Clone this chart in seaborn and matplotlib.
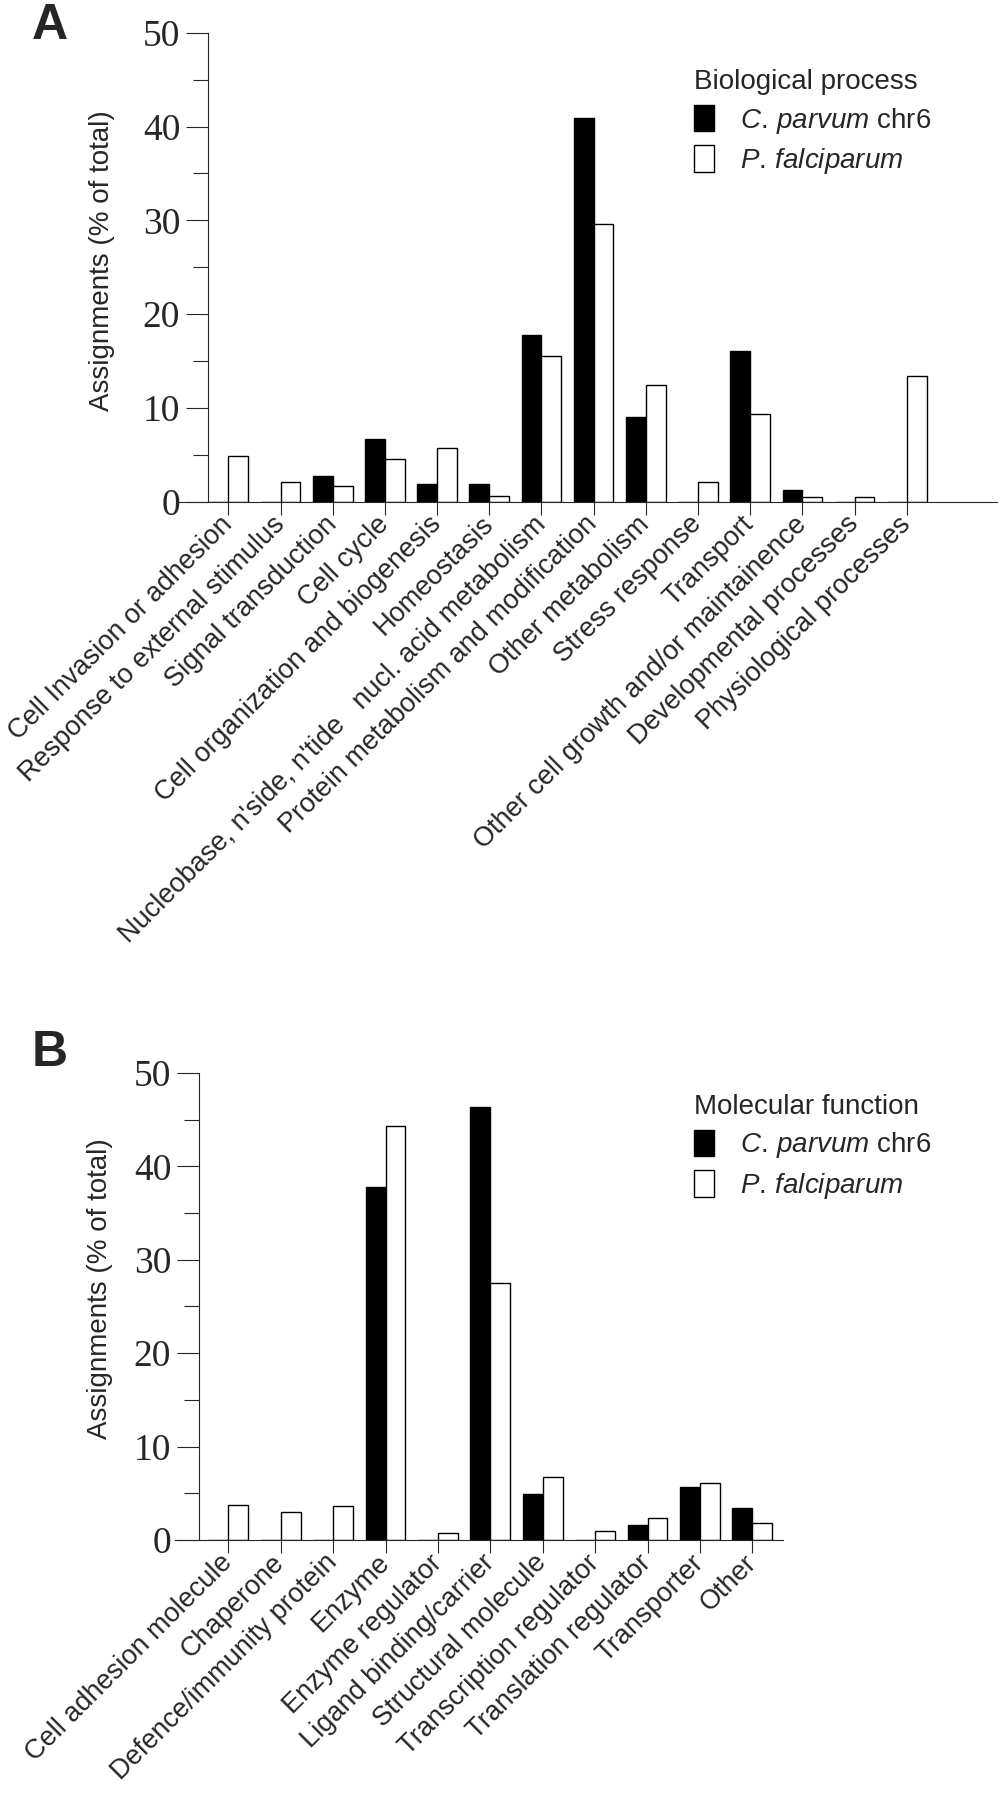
import matplotlib.pyplot as plt
import pandas as pd
import seaborn as sns
from matplotlib.patches import Patch
from matplotlib.ticker import MultipleLocator

# GO "biological process" categories (panel A)
bio_process = [
    "Cell Invasion or adhesion",
    "Response to external stimulus",
    "Signal transduction",
    "Cell cycle",
    "Cell organization and biogenesis",
    "Homeostasis",
    "Nucleobase, n'side, n'tide   nucl. acid metabolism",
    "Protein metabolism and modification",
    "Other metabolism",
    "Stress response",
    "Transport",
    "Other cell growth and/or maintainence",
    "Developmental processes",
    "Physiological processes",
]
bio_cparvum = [0, 0, 2.7, 6.7, 1.85, 1.85, 17.8, 40.9, 9.0, 0, 16.1, 1.2, 0, 0]
bio_pfalc = [4.9, 2.1, 1.7, 4.5, 5.7, 0.6, 15.5, 29.6, 12.4, 2.1, 9.4, 0.45, 0.45, 13.4]

# GO "molecular function" categories (panel B)
mol_function = [
    "Cell adhesion molecule",
    "Chaperone",
    "Defence/immunity protein",
    "Enzyme",
    "Enzyme regulator",
    "Ligand binding/carrier",
    "Structural molecule",
    "Transcription regulator",
    "Translation regulator",
    "Transporter",
    "Other",
]
mol_cparvum = [0, 0, 0, 37.8, 0, 46.3, 4.9, 0, 1.6, 5.7, 3.4]
mol_pfalc = [3.8, 3.0, 3.6, 44.3, 0.75, 27.5, 6.8, 1.0, 2.4, 6.1, 1.8]

species = ["C. parvum chr6", "P. falciparum"]
legend_labels = [r"$\mathit{C.\,parvum}$ chr6", r"$\mathit{P.\,falciparum}$"]
colors = {"C. parvum chr6": "black", "P. falciparum": "white"}


def mk_df(cats, cp, pf):
    return pd.DataFrame({
        "category": cats * 2,
        "species": [species[0]] * len(cats) + [species[1]] * len(cats),
        "value": cp + pf,
    })


def draw_panel(ax, cats, cp, pf, xlim, spine_left, title, lab_x, lab_y, leg_anchor):
    df = mk_df(cats, cp, pf)
    sns.barplot(data=df, x="category", y="value", hue="species", order=cats,
                hue_order=species, palette=colors, edgecolor="black",
                linewidth=1.0, width=0.76, saturation=1, legend=False, ax=ax)
    ax.set_xlim(*xlim)
    ax.set_ylim(0, 50)
    ax.yaxis.set_major_locator(MultipleLocator(10))
    ax.yaxis.set_minor_locator(MultipleLocator(5))
    ax.tick_params(axis="y", which="major", direction="out", length=16, width=0.8,
                   labelsize=27, pad=4, labelfontfamily="Liberation Serif")
    ax.tick_params(axis="y", which="minor", direction="out", length=11, width=0.8)
    ax.tick_params(axis="x", direction="out", length=9.5, width=0.8, pad=4)
    ax.set_xticks(range(len(cats)))
    ax.set_xticklabels(cats, rotation=45, ha="right", va="center",
                       rotation_mode="anchor", fontsize=19.5)
    ax.set_xlabel("")
    ax.set_ylabel("Assignments (% of total)", fontsize=20)
    ax.yaxis.set_label_coords(lab_x, lab_y)
    for s in ["top", "right"]:
        ax.spines[s].set_visible(False)
    ax.spines["left"].set_linewidth(0.8)
    ax.spines["bottom"].set_linewidth(0.8)
    ax.spines["bottom"].set_bounds(spine_left, xlim[1])
    handles = [Patch(facecolor=colors[s], edgecolor="black", linewidth=1.0) for s in species]
    leg = ax.legend(handles, legend_labels, title=title, loc="upper left",
                    bbox_to_anchor=leg_anchor, bbox_transform=ax.figure.transFigure,
                    frameon=False, fontsize=20, title_fontsize=20, borderpad=0,
                    borderaxespad=0, handlelength=0.72, handleheight=1.1,
                    handletextpad=0.95, labelspacing=0.35, alignment="left")
    return leg


sns.set_style("ticks")
plt.rcParams["font.family"] = ["Liberation Sans", "DejaVu Sans"]
plt.rcParams["mathtext.fontset"] = "custom"
plt.rcParams["mathtext.rm"] = "Liberation Sans"
plt.rcParams["mathtext.it"] = "Liberation Sans:italic"

fig = plt.figure(figsize=(10, 18), dpi=100)
ax_a = fig.add_axes([0.208, 0.7213, 0.789, 0.2605])
ax_b = fig.add_axes([0.199, 0.1444, 0.5837, 0.2596])

draw_panel(ax_a, bio_process, bio_cparvum, bio_pfalc, (-0.39, 14.73), -1.0,
           "Biological process", -0.118, 0.513, (0.694, 1 - 69 / 1800))
draw_panel(ax_b, mol_function, mol_cparvum, mol_pfalc, (-0.56, 10.58), -1.02,
           "Molecular function", -0.147, 0.539, (0.694, 1 - 1094 / 1800))

fig.text(0.032, 1 - 3 / 1800, "A", fontsize=36, fontweight="bold", va="top")
fig.text(0.032, 1 - 1030 / 1800, "B", fontsize=36, fontweight="bold", va="top")

fig.savefig("out.png", dpi=100)
